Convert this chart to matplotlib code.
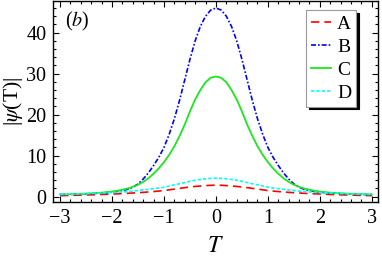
import matplotlib

matplotlib.use("Agg")
import matplotlib.pyplot as plt
from matplotlib.ticker import MultipleLocator

plt.rcParams["font.family"] = ["Liberation Serif", "DejaVu Serif"]
plt.rcParams["mathtext.fontset"] = "stix"

# ── Data ───────────────────────────────────────────────────────────────

T = [-3.0, -2.9, -2.8, -2.7, -2.6, -2.5, -2.4, -2.3, -2.2, -2.1,
     -2.0, -1.9, -1.8, -1.7, -1.6, -1.5, -1.4, -1.3, -1.2, -1.1,
     -1.0, -0.9, -0.8, -0.7, -0.6, -0.5, -0.4, -0.3, -0.2, -0.1,
     0.0,
     0.1, 0.2, 0.3, 0.4, 0.5, 0.6, 0.7, 0.8, 0.9, 1.0,
     1.1, 1.2, 1.3, 1.4, 1.5, 1.6, 1.7, 1.8, 1.9, 2.0,
     2.1, 2.2, 2.3, 2.4, 2.5, 2.6, 2.7, 2.8, 2.9, 3.0]

psi_a = [0.25, 0.28, 0.32, 0.35, 0.38, 0.41, 0.45, 0.5, 0.55, 0.6,
         0.65, 0.7, 0.75, 0.82, 0.9, 0.97, 1.05, 1.15, 1.25, 1.37,
         1.5, 1.67, 1.85, 2.03, 2.2, 2.35, 2.5, 2.6, 2.7, 2.77,
         2.8,
         2.77, 2.7, 2.6, 2.5, 2.35, 2.2, 2.03, 1.85, 1.67, 1.5,
         1.37, 1.25, 1.15, 1.05, 0.97, 0.9, 0.82, 0.75, 0.7, 0.65,
         0.6, 0.55, 0.5, 0.45, 0.41, 0.38, 0.35, 0.32, 0.28, 0.25]

psi_b = [0.5, 0.52, 0.55, 0.6, 0.65, 0.7, 0.75, 0.82, 0.9, 1.0,
         1.1, 1.3, 1.5, 1.8, 2.3, 3.1, 4.3, 5.8, 7.6, 9.6,
         12.0, 15.2, 19.0, 23.5, 28.5, 33.5, 38.0, 41.5, 44.0, 45.5,
         46.0,
         45.5, 44.0, 41.5, 38.0, 33.5, 28.5, 23.5, 19.0, 15.2, 12.0,
         9.6, 7.6, 5.8, 4.3, 3.1, 2.3, 1.8, 1.5, 1.3, 1.1,
         1.0, 0.9, 0.82, 0.75, 0.7, 0.65, 0.6, 0.55, 0.52, 0.5]

psi_c = [0.55, 0.57, 0.6, 0.65, 0.7, 0.74, 0.8, 0.88, 0.98, 1.1,
         1.25, 1.45, 1.7, 2.0, 2.4, 2.9, 3.6, 4.5, 5.6, 6.9,
         8.4, 10.2, 12.3, 14.8, 17.6, 20.8, 23.7, 26.0, 27.9, 29.0,
         29.3,
         29.0, 27.9, 26.0, 23.7, 20.8, 17.6, 14.8, 12.3, 10.2, 8.4,
         6.9, 5.6, 4.5, 3.6, 2.9, 2.4, 2.0, 1.7, 1.45, 1.25,
         1.1, 0.98, 0.88, 0.8, 0.74, 0.7, 0.65, 0.6, 0.57, 0.55]

psi_d = [0.55, 0.58, 0.62, 0.66, 0.7, 0.75, 0.8, 0.85, 0.9, 0.95,
         1.0, 1.07, 1.15, 1.25, 1.35, 1.5, 1.65, 1.8, 1.95, 2.1,
         2.3, 2.6, 2.9, 3.15, 3.45, 3.75, 4.0, 4.2, 4.35, 4.46,
         4.5,
         4.46, 4.35, 4.2, 4.0, 3.75, 3.45, 3.15, 2.9, 2.6, 2.3,
         2.1, 1.95, 1.8, 1.65, 1.5, 1.35, 1.25, 1.15, 1.07, 1.0,
         0.95, 0.9, 0.85, 0.8, 0.75, 0.7, 0.66, 0.62, 0.58, 0.55]

labels = ["A", "B", "C", "D"]

# ── Plot ───────────────────────────────────────────────────────────────

fig = plt.figure(figsize=(3.82, 2.57), dpi=100)
ax = fig.add_axes([0.1396, 0.214, 0.85, 0.782])

ax.plot(T, psi_a, color="#ff0000", lw=1.2, ls=(0, (5, 3)), label=labels[0])
ax.plot(T, psi_b, color="#0000ff", lw=1.2, ls=(0, (3, 1.2, 1, 1.2)), label=labels[1])
ax.plot(T, psi_c, color="#1ee61e", lw=1.3, ls="-", label=labels[2])
ax.plot(T, psi_d, color="#00ffff", lw=1.2, ls=(0, (2, 1.2)), label=labels[3])

ax.set_xlim(-3.13, 3.12)
ax.set_ylim(-1.3, 47.7)
ax.xaxis.set_major_locator(MultipleLocator(1))
ax.xaxis.set_minor_locator(MultipleLocator(0.2))
ax.yaxis.set_major_locator(MultipleLocator(10))
ax.yaxis.set_minor_locator(MultipleLocator(2))
ax.tick_params(which="both", direction="in", top=True, right=True,
               labelsize=14.5, width=0.8)
ax.tick_params(which="major", length=4, pad=5)
ax.tick_params(which="minor", length=2)
for s in ax.spines.values():
    s.set_linewidth(1.0)

ax.set_xlabel("$T$", fontsize=17, labelpad=6)
ax.set_ylabel(r"|$\psi$(T)|", fontsize=15.5, labelpad=1)
ax.text(0.035, 0.955, "($b$)", transform=ax.transAxes, fontsize=14.5,
        ha="left", va="top")

leg = ax.legend(loc="upper right", bbox_to_anchor=(0.932, 0.955), fontsize=14,
                frameon=True, fancybox=False, framealpha=1,
                edgecolor="#999999", handlelength=1.05, handletextpad=0.3,
                labelspacing=0.28, borderpad=0.25, borderaxespad=0.0,
                shadow={"color": "black", "alpha": 1})
leg.get_frame().set_linewidth(0.8)

fig.savefig("out.png", dpi=100)
